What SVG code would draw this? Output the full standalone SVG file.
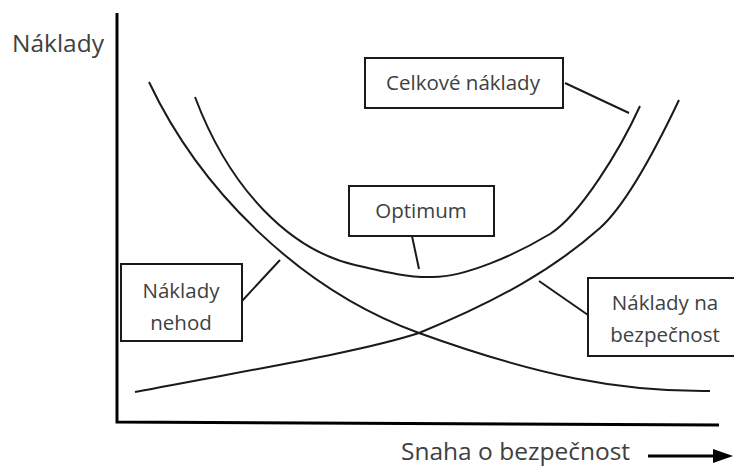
<svg xmlns="http://www.w3.org/2000/svg" width="734" height="468" viewBox="0 0 734 468">
<style>
.axis{fill:none;stroke:#000;stroke-width:3}
.curve{fill:none;stroke:#1a1a1a;stroke-width:2}
.box{fill:#fff;stroke:#1a1a1a;stroke-width:2}
.lead{fill:none;stroke:#1a1a1a;stroke-width:2}
.lbl{font-family:"Open Sans","Noto Sans",sans-serif;fill:#404040}
.ax{font-size:24.5px}
.bx{font-size:20.5px;text-anchor:middle}
</style>
<rect width="734" height="468" fill="#fff"/>
<g id="axes">
<path class="axis" d="M117,13 V422 L719,425"/>
<text class="lbl ax" x="12" y="52">Náklady</text>
<text class="lbl ax" x="401" y="460">Snaha o bezpečnost</text>
<line class="axis" x1="648" y1="456" x2="717" y2="456"/>
<polygon points="713,449 733,456 713,463" fill="#000"/>
</g>
<g id="connectors">
<path id="naklady-nehod-curve" class="curve" d="M149,82 C200,190 300,290 419,333 C538,376 620,392 710,391"/>
<path id="bezpecnost-curve" class="curve" d="M135,392 C260,368 360,352 419,333 C500,300 555,268 600,228 C628,203 660,140 679,100"/>
<path id="celkove-curve" class="curve" d="M195,97 C230,190 290,250 355,265 C385,272 410,278 433,277 C465,277 515,255 550,234 C580,215 620,150 640,106"/>
<line class="lead" x1="565" y1="83" x2="629" y2="113"/>
<line class="lead" x1="412" y1="236" x2="419" y2="269"/>
<line class="lead" x1="242" y1="301" x2="280" y2="260"/>
<line class="lead" x1="588" y1="315" x2="539" y2="281"/>
</g>
<g id="celkove-naklady">
<rect class="box" x="365" y="58" width="198" height="50"/>
<text class="lbl bx" x="463" y="90">Celkové náklady</text>
</g>
<g id="optimum">
<rect class="box" x="349" y="186" width="145" height="50"/>
<text class="lbl bx" x="421" y="218">Optimum</text>
</g>
<g id="naklady-nehod">
<rect class="box" x="121" y="264" width="121" height="77"/>
<text class="lbl bx" x="181" y="298">Náklady</text>
<text class="lbl bx" x="181" y="330">nehod</text>
</g>
<g id="naklady-na-bezpecnost">
<rect class="box" x="588" y="278" width="150" height="78"/>
<text class="lbl bx" x="665" y="310">Náklady na</text>
<text class="lbl bx" x="665" y="342">bezpečnost</text>
</g>
</svg>
